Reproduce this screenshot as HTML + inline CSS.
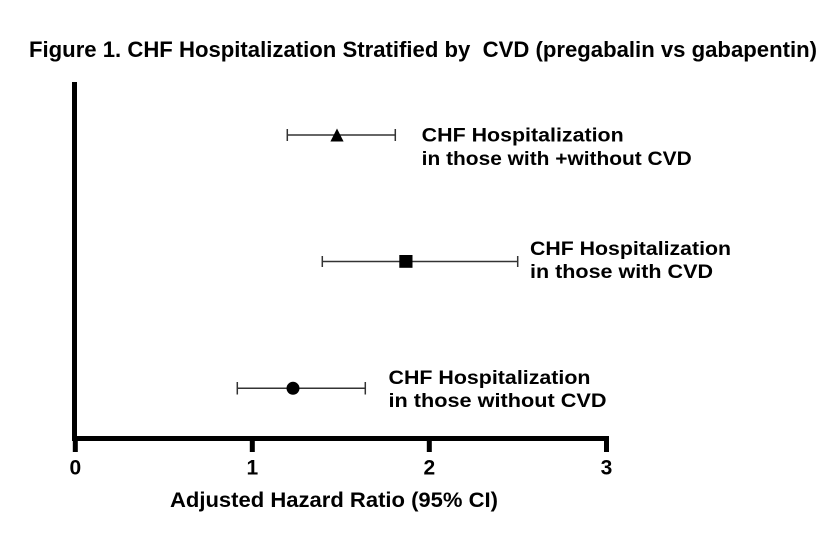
<!DOCTYPE html>
<html>
<head>
<meta charset="utf-8">
<style>
  html, body { margin:0; padding:0; background:#fff; }
  svg { display:block; }
  text { font-family: "Liberation Sans", Arial, sans-serif; font-weight: bold; fill:#000; }
</style>
</head>
<body>
<svg width="836" height="542" viewBox="0 0 836 542" xmlns="http://www.w3.org/2000/svg">
  <rect width="836" height="542" fill="#fff"/>
  <!-- Title -->
  <text x="29" y="57" font-size="22" textLength="788" lengthAdjust="spacingAndGlyphs" style="white-space:pre">Figure 1. CHF Hospitalization Stratified by  CVD (pregabalin vs gabapentin)</text>

  <!-- Axes -->
  <rect x="72" y="82" width="5" height="359" fill="#000"/>
  <rect x="72" y="436" width="537" height="5" fill="#000"/>
  <!-- ticks -->
  <rect x="72.8" y="440" width="5" height="12" fill="#000"/>
  <rect x="249.8" y="440" width="5" height="12" fill="#000"/>
  <rect x="426.8" y="440" width="5" height="12" fill="#000"/>
  <rect x="604" y="440" width="5" height="12" fill="#000"/>
  <!-- tick labels -->
  <text x="75.3" y="474.5" font-size="21" text-anchor="middle">0</text>
  <text x="252.3" y="474.5" font-size="21" text-anchor="middle">1</text>
  <text x="429.3" y="474.5" font-size="21" text-anchor="middle">2</text>
  <text x="606.5" y="474.5" font-size="21" text-anchor="middle">3</text>

  <!-- axis title -->
  <text x="170" y="507" font-size="21" textLength="328" lengthAdjust="spacingAndGlyphs">Adjusted Hazard Ratio (95% CI)</text>

  <!-- Series 1: triangle -->
  <g stroke="#333" stroke-width="1.5" fill="none">
    <line x1="287.3" y1="135" x2="395.3" y2="135"/>
    <line x1="287.3" y1="129" x2="287.3" y2="141"/>
    <line x1="395.3" y1="129" x2="395.3" y2="141"/>
  </g>
  <polygon points="337,128.5 343.6,141.5 330.4,141.5" fill="#000"/>

  <!-- Series 2: square -->
  <g stroke="#333" stroke-width="1.5" fill="none">
    <line x1="322.3" y1="261.5" x2="517.7" y2="261.5"/>
    <line x1="322.3" y1="256" x2="322.3" y2="267"/>
    <line x1="517.7" y1="256" x2="517.7" y2="267"/>
  </g>
  <rect x="399.3" y="255" width="13.2" height="12.8" fill="#000"/>

  <!-- Series 3: circle -->
  <g stroke="#333" stroke-width="1.5" fill="none">
    <line x1="237.3" y1="388.3" x2="365.3" y2="388.3"/>
    <line x1="237.3" y1="382" x2="237.3" y2="394.5"/>
    <line x1="365.3" y1="382" x2="365.3" y2="394.5"/>
  </g>
  <circle cx="293" cy="388.3" r="6.5" fill="#000"/>

  <!-- Labels -->
  <text x="421.7" y="141.5" font-size="19" textLength="202" lengthAdjust="spacingAndGlyphs">CHF Hospitalization</text>
  <text x="421.7" y="164.8" font-size="19" textLength="270" lengthAdjust="spacingAndGlyphs">in those with +without CVD</text>

  <text x="530" y="254.8" font-size="19" textLength="201" lengthAdjust="spacingAndGlyphs">CHF Hospitalization</text>
  <text x="530" y="277.8" font-size="19" textLength="183" lengthAdjust="spacingAndGlyphs">in those with CVD</text>

  <text x="388.5" y="383.8" font-size="19" textLength="202" lengthAdjust="spacingAndGlyphs">CHF Hospitalization</text>
  <text x="388.5" y="407" font-size="19" textLength="218" lengthAdjust="spacingAndGlyphs">in those without CVD</text>
</svg>
</body>
</html>
